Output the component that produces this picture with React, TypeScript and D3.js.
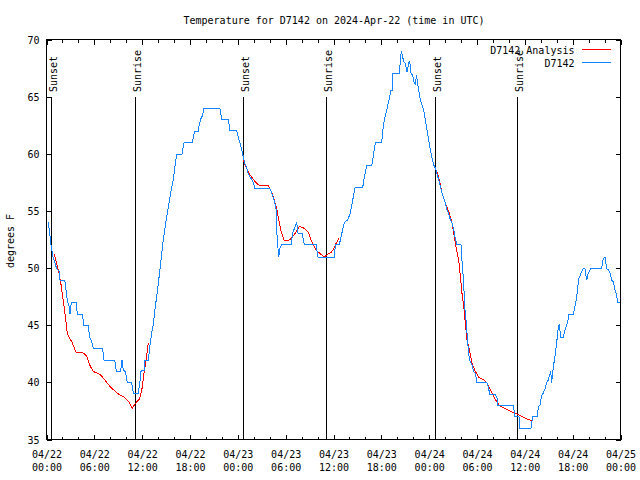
import React from "react";
import * as d3 from "d3";

const TITLE = "Temperature for D7142 on 2024-Apr-22 (time in UTC)";
const Y_LABEL = "degrees F";
const SERIES_NAMES = ["D7142 Analysis", "D7142"];
const SERIES_COLORS = ["#ff0000", "#1784ff"];

// hours since 2024-04-22 00:00 UTC, temperature (F)
const observed: [number, number][] = [
  [0.16,54.1],[0.38,52.8],[0.54,51.9],[0.75,51.0],[1.0,50.5],[1.21,50.0],[1.5,49.8],[1.63,49.0],[2.22,49.0],[2.34,48.4],[2.55,47.25],[2.76,46.7],[2.88,46.0],[3.05,47.0],[3.68,47.0],[3.8,46.0],[4.43,46.0],[4.64,45.0],[5.18,45.0],[5.35,44.0],[5.6,43.6],[5.81,43.0],[6.98,43.0],[7.15,42.0],[8.49,42.0],[8.7,41.0],[9.24,41.0],[9.41,42.0],[9.57,41.1],[9.82,41.0],[10.08,40.0],[10.62,40.0],[10.83,39.1],[11.45,39.1],[11.66,40.1],[11.8,41.05],[12.17,41.05],[12.2,42.0],[12.71,42.0],[12.85,42.9],[13.13,44.4],[13.35,45.2],[13.55,46.5],[13.75,47.5],[13.96,48.7],[14.17,49.9],
  [14.38,51.3],[14.59,52.5],[14.92,54.1],[15.22,55.4],[15.51,56.6],[15.84,57.75],[16.05,58.9],[16.26,60.0],[16.93,60.0],[17.1,60.7],[17.22,61.05],[18.23,61.05],[18.35,61.5],[18.52,62.0],[18.98,62.0],[19.1,62.6],[19.27,63.06],[19.52,63.4],[19.69,64.0],[21.7,64.0],[21.9,63.06],[22.74,63.06],[22.95,62.07],[23.79,62.07],[24.0,61.5],[24.2,61.0],[24.41,60.4],[24.62,59.8],[24.83,59.2],[25.04,58.8],[25.25,58.3],[25.46,58.0],[25.67,57.8],[25.88,57.5],[26.08,57.0],[27.97,57.0],[28.18,56.6],[28.47,56.0],[28.72,55.4],[28.8,53.4],[29.06,51.0],[29.23,51.8],[29.48,52.1],[30.61,52.1],[30.82,53.1],[31.03,53.5],[31.32,54.05],[31.49,53.1],[31.99,53.1],[32.28,52.1],[33.75,52.1],[34.0,51.0],[36.05,51.0],[36.17,52.1],[36.67,52.1],[36.92,52.9],[37.3,54.05],[37.72,54.25],[38.01,54.8],[38.35,56.0],[38.64,57.1],[39.6,57.1],[39.81,58.0],[40.1,59.0],[40.73,59.0],[40.94,59.9],[41.19,61.05],[41.98,61.05],[42.11,62.0],[42.32,63.06],[42.65,64.0],[42.94,64.9],[43.15,65.6],[43.3,65.6],[43.4,67.1],[44.2,67.1],[44.33,68.25],[44.45,69.07],[44.62,68.5],[44.74,68.1],[44.95,67.96],[45.16,67.2],[45.37,68.0],[45.5,68.1],[45.66,67.1],[45.87,66.9],[46.04,66.35],[46.21,66.06],[46.33,66.9],[46.5,66.2],[46.62,65.6],[46.83,64.75],[47.04,64.3],[47.25,63.9],[47.46,63.0],[47.67,62.1],[47.88,61.25],[48.09,60.4],[48.3,59.65],[48.51,59.06],[48.71,58.8],[48.92,58.3],[49.13,57.75],[49.34,57.2],[49.55,56.6],[49.76,56.15],[49.97,55.7],[50.18,55.1],[50.39,54.8],[50.6,54.25],[50.81,54.0],[51.02,53.4],[51.22,52.65],[51.43,52.1],[51.93,52.1],[52.06,50.6],[52.27,48.7],[52.39,46.7],[52.56,45.5],[52.69,44.3],[52.81,43.2],[52.98,42.0],[53.31,41.6],[53.52,41.0],[53.73,40.8],[53.94,40.0],[55.2,40.0],[55.4,39.5],[55.53,39.0],[56.24,39.0],[56.45,38.65],[56.57,38.0],[58.5,38.0],[58.7,37.05],[59.2,37.05],[59.33,36.0],[60.71,36.0],[60.92,37.05],[61.5,37.05],[61.63,37.9],[61.84,38.07],[62.05,38.9],[62.26,39.1],[62.47,39.5],[62.68,40.0],[62.88,40.25],[63.18,41.0],[63.3,40.0],[63.51,41.4],[63.72,42.3],[63.93,43.5],[64.14,44.9],[64.26,45.1],[64.43,44.0],[64.77,44.0],[64.97,44.6],[65.27,45.2],[65.48,46.0],[66.02,46.0],[66.23,46.7],[66.44,47.5],[66.56,48.3],[66.73,49.15],[66.98,49.6],[67.27,50.0],[67.48,49.96],[67.69,49.0],[67.9,49.6],[68.24,50.0],[69.57,50.0],[69.78,50.9],[69.99,51.0],[70.2,50.0],[70.41,49.9],[70.62,49.6],[70.83,49.0],[71.04,48.85],[71.25,48.1],[71.46,47.7],[71.58,47.0],[71.87,47.0],
];

const analysisNight1: [number, number][] = [
  [0.88,51.3],[1.09,50.75],[1.3,50.2],[1.5,49.6],[1.71,48.85],[1.92,47.8],[2.13,46.7],[2.34,45.65],[2.55,44.3],[2.76,44.0],[3.18,43.5],[3.6,42.7],[4.64,42.6],[5.0,42.3],[5.4,41.5],[5.8,41.0],[6.3,40.85],[6.65,40.75],[7.2,40.3],[8.0,39.6],[9.0,39.0],[9.7,38.75],[10.3,38.3],[10.7,37.8],[11.1,38.2],[11.6,38.6],[11.9,39.4],[12.2,41.0],[12.45,42.1],[12.71,43.5],
];
const analysisNight2: [number, number][] = [
  [24.62,59.5],[24.83,59.06],[25.04,58.8],[25.25,58.5],[25.46,58.2],[25.88,57.8],[26.3,57.46],[26.71,57.26],[27.76,57.26],[27.97,57.0],[28.39,56.3],[28.6,55.7],[28.8,55.3],[29.0,54.5],[29.15,54.0],[29.36,53.3],[29.57,52.8],[29.78,52.45],[30.4,52.5],[30.82,52.8],[31.24,53.2],[31.66,53.67],[32.07,53.6],[32.49,53.4],[32.83,53.1],[33.12,52.5],[33.41,52.1],[33.75,51.6],[34.37,51.25],[34.79,51.0],[35.21,51.25],[35.63,51.4],[35.92,51.7],[36.26,52.2],[36.67,52.7],
];
const analysisNight3: [number, number][] = [
  [48.71,58.8],[49.13,58.0],[49.55,56.6],[49.97,55.7],[50.39,55.0],[50.81,54.0],[51.22,52.2],[51.64,50.75],[51.85,49.3],[52.06,47.8],[52.27,46.7],[52.48,45.2],[52.69,43.75],[52.98,42.9],[53.31,41.7],[53.73,41.0],[54.15,40.5],[54.78,40.25],[55.2,40.0],[55.61,39.4],[56.03,38.8],[56.45,38.3],[56.8,38.0],[57.5,37.75],[58.2,37.5],[59.0,37.25],[60.0,36.9],[60.9,36.65],
];

const sunsetHours = [0.54, 24.62, 48.71];
const sunriseHours = [11.04, 35.04, 58.99];
const yDomain = [35, 70];
const START = Date.UTC(2024, 3, 22, 0, 0);
const END = Date.UTC(2024, 3, 25, 0, 0);

const toDate = (h: number) => new Date(START + h * 3600e3);

const FONT = "'DejaVu Sans Mono', monospace";

export default function App() {
  const W = 640, H = 480;
  const L = 47, R = 621, T = 40, B = 440;
  const x = d3.scaleUtc().domain([new Date(START), new Date(END)]).range([L, R]);
  const y = d3.scaleLinear().domain(yDomain).range([B, T]);
  const px = (v: number) => Math.round(v - 0.5) + 0.5;
  const bl = L - 0.5, br = R - 0.5, bt = T - 0.5, bb = B - 0.5;

  const line = d3.line<[number, number]>().x(d => x(toDate(d[0]))).y(d => y(d[1]));

  const major = x.ticks(d3.utcHour.every(6)!);
  const minor = x.ticks(d3.utcHour.every(2)!).filter(t => t.getUTCHours() % 6 !== 0);
  const yTicks = y.ticks(7);
  const fmtD = d3.utcFormat("%m/%d");
  const fmtT = d3.utcFormat("%H:%M");

  const sunEvents = [
    ...sunsetHours.map(h => ({ h, label: "Sunset" })),
    ...sunriseHours.map(h => ({ h, label: "Sunrise" })),
  ];

  return (
    <svg width={W} height={H} style={{ display: "block", position: "absolute", left: 0, top: 0, background: "#fff" }} fontFamily={FONT} fontSize={10}>
      <rect x={0} y={0} width={W} height={H} fill="#fff" />
      <text x={334} y={23.5} textAnchor="middle">{TITLE}</text>
      <text transform={`translate(13.5,241) rotate(-90)`} textAnchor="middle">{Y_LABEL}</text>

      {sunEvents.map((e, i) => {
        const xx = px(x(toDate(e.h)));
        return (
          <g key={"s" + i}>
            <line x1={xx} x2={xx} y1={y(65)} y2={bb} stroke="#000" shapeRendering="crispEdges" />
            <text transform={`translate(${xx + 5.5},92) rotate(-90)`} textAnchor="start">{e.label}</text>
          </g>
        );
      })}

      <g stroke="#000" shapeRendering="crispEdges">
        {major.map((t, i) => {
          const xx = px(x(t));
          return (
            <g key={"M" + i}>
              <line x1={xx} x2={xx} y1={bb} y2={bb - 5} />
              <line x1={xx} x2={xx} y1={bt} y2={bt + 5} />
            </g>
          );
        })}
        {minor.map((t, i) => {
          const xx = px(x(t));
          return (
            <g key={"m" + i}>
              <line x1={xx} x2={xx} y1={bb} y2={bb - 3} />
              <line x1={xx} x2={xx} y1={bt} y2={bt + 3} />
            </g>
          );
        })}
        {yTicks.map((v, i) => {
          const yy = px(y(v));
          return (
            <g key={"y" + i}>
              <line x1={bl} x2={bl + 5} y1={yy} y2={yy} />
              <line x1={br} x2={br - 5} y1={yy} y2={yy} />
            </g>
          );
        })}
      </g>

      {yTicks.map((v, i) => (
        <text key={"yl" + i} x={39.5} y={y(v) + 3.6} textAnchor="end">{v}</text>
      ))}
      {major.map((t, i) => (
        <g key={"xl" + i}>
          <text x={x(t)} y={458.3} textAnchor="middle">{fmtD(t)}</text>
          <text x={x(t)} y={470.8} textAnchor="middle">{fmtT(t)}</text>
        </g>
      ))}

      {[analysisNight1, analysisNight2, analysisNight3].map((seg, i) => (
        <path key={"a" + i} d={line(seg) || ""} fill="none" stroke={SERIES_COLORS[0]} strokeWidth={1} shapeRendering="crispEdges" />
      ))}
      <path d={line(observed) || ""} fill="none" stroke={SERIES_COLORS[1]} strokeWidth={1} shapeRendering="crispEdges" />

      {SERIES_NAMES.map((n, i) => (
        <g key={"lg" + i}>
          <text x={574.5} y={54 + i * 12.5} textAnchor="end">{n}</text>
          <line x1={581.5} x2={610.5} y1={49.5 + i * 12.5} y2={49.5 + i * 12.5} stroke={SERIES_COLORS[i]} shapeRendering="crispEdges" />
        </g>
      ))}

      <rect x={bl} y={bt} width={br - bl} height={bb - bt} fill="none" stroke="#000" shapeRendering="crispEdges" />
    </svg>
  );
}
